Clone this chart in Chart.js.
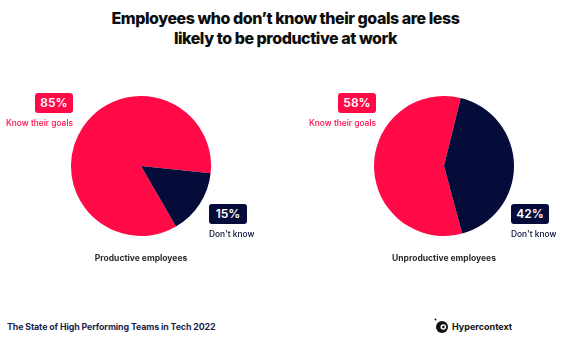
<!DOCTYPE html>
<html>
<head>
<meta charset="utf-8">
<script src="https://cdn.jsdelivr.net/npm/chart.js@4/dist/chart.umd.min.js"></script>
<style>
  html, body { margin: 0; padding: 0; background: #fff; }
  body { width: 571px; height: 342px; position: relative; overflow: hidden; font-family: Inter, "Noto Sans", sans-serif; }
  .title { position: absolute; left: 0; top: 9px; width: 571px; text-align: center; font-weight: 800; font-size: 16px; line-height: 19.5px; color: #0d0d0d; letter-spacing: -0.45px; }
  .pie { position: absolute; top: 96px; width: 140px; height: 140px; }
  .badge { position: absolute; width: 38px; height: 20px; border-radius: 3px; color: #fff; font-size: 12px; font-weight: 600; line-height: 20px; text-align: center; }
  .lbl { position: absolute; font-size: 8.4px; font-weight: 500; line-height: 12px; white-space: nowrap; }
  .sub { position: absolute; top: 252px; font-size: 8.5px; font-weight: 700; color: #2b2b2b; text-align: center; width: 200px; line-height: 12px; }
  .foot { position: absolute; left: 7px; top: 321px; font-size: 8.8px; font-weight: 700; color: #1b1f4e; line-height: 12px; letter-spacing: -0.1px; }
  .brand { position: absolute; left: 452px; top: 321px; font-size: 9px; font-weight: 700; color: #111; line-height: 12px; }
  .logo { position: absolute; left: 433px; top: 317px; }
</style>
</head>
<body>
<div class="title">Employees who don’t know their goals are less<br>likely to be productive at work</div>

<canvas id="c1" class="pie" style="left:71px" width="140" height="140"></canvas>
<canvas id="c2" class="pie" style="left:374px" width="140" height="140"></canvas>

<div id="labels"></div>

<div class="foot">The State of High Performing Teams in Tech 2022</div>
<svg class="logo" width="16" height="18" viewBox="0 0 16 18">
  <circle cx="9" cy="10" r="6" fill="#111"/>
  <circle cx="10.3" cy="10" r="2.8" fill="#fff"/>
  <rect x="9.3" y="8.8" width="2.2" height="2.4" fill="#111"/>
  <circle cx="2.5" cy="2.5" r="0.9" fill="#111"/>
</svg>
<div class="brand">Hypercontext</div>

<script>
// ---- data ----
const categories = ["Know their goals", "Don't know"];
const groups = ["Productive employees", "Unproductive employees"];
const productiveValues = [85, 15];
const unproductiveValues = [58, 42];
const colors = ["#FF0A47", "#060C3A"];

// layout (not data)
const pieLayout = [
  { id: "c1", left: 71, rotation: 150, badgeKnow: [35, 93], textKnow: 73, badgeDont: [209, 204], subCenter: 141 },
  { id: "c2", left: 374, rotation: 165, badgeKnow: [338, 93], textKnow: 376, badgeDont: [511, 204], subCenter: 444 }
];
const seriesList = [productiveValues, unproductiveValues];

seriesList.forEach((vals, i) => {
  const L = pieLayout[i];
  new Chart(document.getElementById(L.id), {
    type: "pie",
    data: {
      labels: categories,
      datasets: [{ data: vals, backgroundColor: colors, borderWidth: 0, hoverOffset: 0 }]
    },
    options: {
      responsive: false,
      animation: false,
      rotation: L.rotation,
      events: [],
      layout: { padding: 0 },
      plugins: { legend: { display: false }, tooltip: { enabled: false } }
    }
  });

  const wrap = document.getElementById("labels");
  const b1 = document.createElement("div");
  b1.className = "badge";
  b1.style.left = L.badgeKnow[0] + "px"; b1.style.top = L.badgeKnow[1] + "px";
  b1.style.background = colors[0];
  b1.textContent = vals[0] + "%";
  wrap.appendChild(b1);
  const t1 = document.createElement("div");
  t1.className = "lbl";
  t1.style.right = (571 - L.textKnow) + "px"; t1.style.top = (L.badgeKnow[1] + 24) + "px";
  t1.style.color = colors[0];
  t1.textContent = categories[0];
  wrap.appendChild(t1);
  const b2 = document.createElement("div");
  b2.className = "badge";
  b2.style.left = L.badgeDont[0] + "px"; b2.style.top = L.badgeDont[1] + "px";
  b2.style.background = colors[1];
  b2.textContent = vals[1] + "%";
  wrap.appendChild(b2);
  const t2 = document.createElement("div");
  t2.className = "lbl";
  t2.style.left = L.badgeDont[0] + "px"; t2.style.top = (L.badgeDont[1] + 24) + "px";
  t2.style.color = colors[1];
  t2.textContent = categories[1];
  wrap.appendChild(t2);
  const s = document.createElement("div");
  s.className = "sub";
  s.style.left = (L.subCenter - 100) + "px";
  s.textContent = groups[i];
  wrap.appendChild(s);
});
</script>
</body>
</html>
